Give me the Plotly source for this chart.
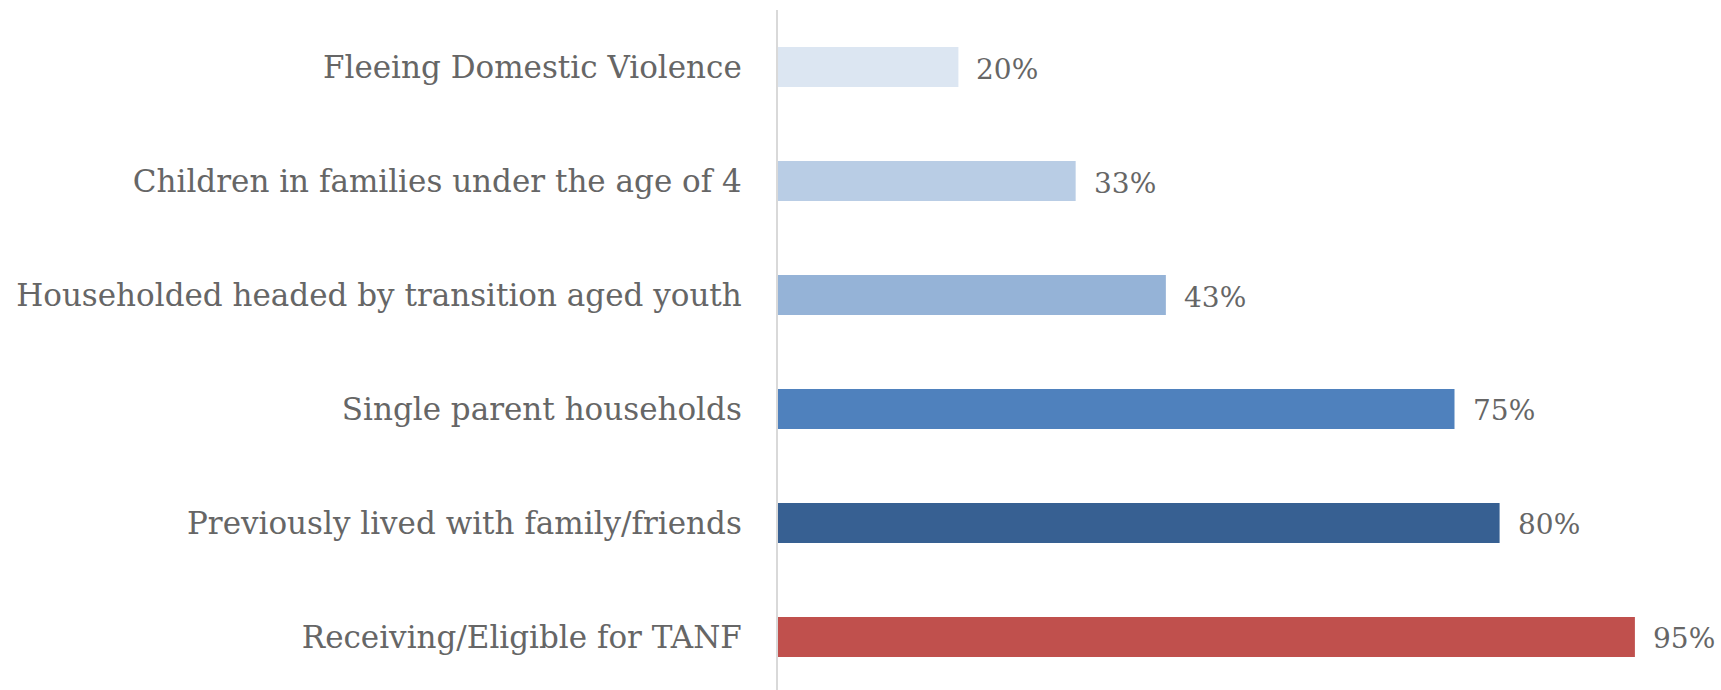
import plotly.graph_objects as go

categories = [
    "Fleeing Domestic Violence",
    "Children in families under the age of 4",
    "Householded headed by transition aged youth",
    "Single parent households",
    "Previously lived with family/friends",
    "Receiving/Eligible for TANF",
]
values = [20, 33, 43, 75, 80, 95]
value_labels = ["20%", "33%", "43%", "75%", "80%", "95%"]
bar_colors = ["#DCE6F2", "#B9CDE5", "#95B3D7", "#4F81BD", "#376092", "#C0504D"]

FONT = "DejaVu Serif"
TEXT_COLOR = "#666666"

fig = go.Figure(
    go.Bar(
        x=values,
        y=categories,
        orientation="h",
        marker=dict(color=bar_colors, line=dict(width=0)),
        width=0.35,
        hoverinfo="skip",
    )
)

# value labels just to the right of each bar end
for cat, val, lab in zip(categories, values, value_labels):
    fig.add_annotation(
        x=val, y=cat, text=lab, showarrow=False,
        xanchor="left", yanchor="middle", xshift=16, yshift=-2,
        font=dict(family=FONT, size=28, color=TEXT_COLOR),
    )

fig.update_layout(
    width=1721, height=690,
    margin=dict(l=778, r=41, t=10, b=0),
    paper_bgcolor="white", plot_bgcolor="white",
    showlegend=False,
    bargap=0.65,
    xaxis=dict(range=[0, 100], visible=False, fixedrange=True),
    yaxis=dict(
        categoryorder="array", categoryarray=categories,
        range=[5.465, -0.5],
        showline=True, linecolor="#D9D9D9", linewidth=2,
        showgrid=False, zeroline=False,
        ticks="outside", ticklen=28, tickcolor="rgba(0,0,0,0)",
        tickfont=dict(family=FONT, size=31, color=TEXT_COLOR),
        fixedrange=True,
    ),
)

fig.write_html("out.html")
